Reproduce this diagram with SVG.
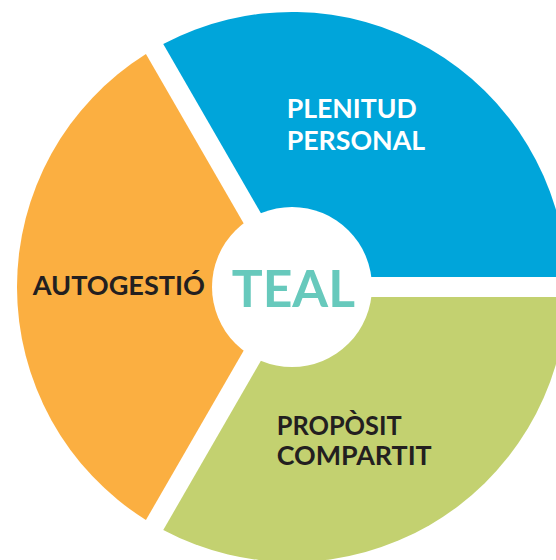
<svg xmlns="http://www.w3.org/2000/svg" width="556" height="560" viewBox="0 0 556 560">
  <style>
    .lbl { font-family: Lato, "Liberation Sans", Arial, sans-serif; font-weight: 700; font-size: 27px; }
    .dark { fill: #231F20; }
    .light { fill: #FFFFFF; }
    .teal { font-family: Lato, "Liberation Sans", Arial, sans-serif; font-weight: 700; font-size: 51px; fill: #67C9BC; }
  </style>
  <rect x="0" y="0" width="556" height="560" fill="#FFFFFF"/>
  <g id="plenitud-personal">
    <path d="M 297.77 277 L 566.82 277 A 275 275 0 0 0 163.25 44 Z" fill="#00A5DA"/>
    <text class="lbl light" x="286.7" y="118.3" textLength="130" lengthAdjust="spacingAndGlyphs">PLENITUD</text>
    <text class="lbl light" x="286.7" y="150" textLength="138.5" lengthAdjust="spacingAndGlyphs">PERSONAL</text>
  </g>
  <g id="autogestio">
    <path d="M 280.45 287 L 145.93 54 A 275 275 0 0 0 145.93 520 Z" fill="#FBAF41"/>
    <text class="lbl dark" x="32.7" y="295" textLength="172.3" lengthAdjust="spacingAndGlyphs">AUTOGESTIÓ</text>
  </g>
  <g id="proposit-compartit">
    <path d="M 297.77 297 L 163.25 530 A 275 275 0 0 0 566.82 297 Z" fill="#C3D170"/>
    <text class="lbl dark" x="276.7" y="435" textLength="125" lengthAdjust="spacingAndGlyphs">PROPÒSIT</text>
    <text class="lbl dark" x="276.7" y="465" textLength="155" lengthAdjust="spacingAndGlyphs">COMPARTIT</text>
  </g>
  <g id="teal">
    <circle cx="292" cy="287" r="80" fill="#FFFFFF"/>
    <text class="teal" x="231.7" y="306.7" textLength="123.3" lengthAdjust="spacingAndGlyphs">TEAL</text>
  </g>
</svg>
